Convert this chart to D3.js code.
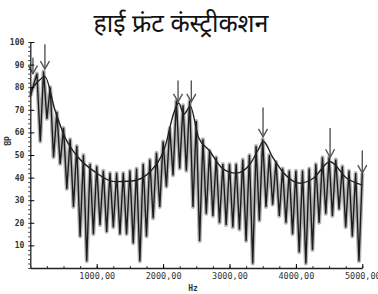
<!DOCTYPE html>
<html>
<head>
<meta charset="utf-8">
<script src="https://cdn.jsdelivr.net/npm/d3@7"></script>
<style>
  body { margin: 0; background: #fff; }
  .tick text { font-family: "DejaVu Sans Mono", monospace; fill: #333; }
</style>
</head>
<body>
<div id="chart"></div>
<script>
// harmonics of the spectrum (Hz) and their levels (dB)
var harmonicHz = [100,200,300,400,500,600,700,800,900,1000,
                  1100,1200,1300,1400,1500,1600,1700,1800,1900,2000,
                  2100,2200,2300,2400,2500,2600,2700,2800,2900,3000,
                  3100,3200,3300,3400,3500,3600,3700,3800,3900,4000,
                  4100,4200,4300,4400,4500,4600,4700,4800,4900,5000];
var peakDb = [86,87,80,69,62,57,54,50,46,45,
              43,42,42,42,43,44,46,48,51,56,
              62,74,72,74,65,57,52,49,46,46,
              46,48,50,54,57,50,47,44,43,43,
              43,44,46,49,49,48,45,43,42,42];
// troughs between harmonics (Hz, dB)
var dipHz = [150,250,350,450,550,650,750,850,950,1050,
             1150,1250,1350,1450,1550,1650,1750,1850,1950,2050,
             2150,2250,2350,2450,2550,2650,2750,2850,2950,3050,
             3150,3250,3350,3450,3550,3650,3750,3850,3950,4050,
             4150,4250,4350,4450,4550,4650,4750,4850,4950];
var dipDb = [56,66,49,46,35,27,14,3,15,19,
             16,18,15,15,11,3,14,22,27,36,
             41,44,43,27,12,24,23,20,19,18,
             17,12,2,21,27,28,23,20,15,7,
             2,8,20,24,23,26,18,14,3];
var startDb = 76;

// smooth envelope
var envHz = [0,100,220,370,520,720,970,1270,1530,1830,2030,2160,2235,2310,2410,2530,2695,2896,3098,3300,3427,3510,3650,3800,4060,4262,4514,4766,5000];
var envDb = [78.5,82,84.7,70,58,49,42.6,38.2,38.5,43.4,53.7,68.5,73,68,71.5,58,52,44,42,45.6,52,56,49,42.6,37.5,39.7,47,39.7,36.7];

// formant arrows
var arrowHz = [40,220,2225,2425,3505,4515,5000];
var arrowTopDb = [93,99,83,83,71,62,52];
var arrowTipDb = [86,88,73.5,73.5,58,49,42];

var xTicks = [1000,2000,3000,4000,5000];
var xTickLabels = ["1000,00","2000,00","3000,00","4000,00","5000,00"];
var yTicks = [10,20,30,40,50,60,70,80,90,100];

var width = 378, height = 294;
var svg = d3.select("#chart").append("svg")
    .attr("width", width)
    .attr("height", height);

var x = d3.scaleLinear().domain([0,5000]).range([30.3,362.3]);
var y = d3.scaleLinear().domain([0,100]).range([268,42]);

// build the zigzag spectrum
var spec = [[0,startDb]];
for (var i = 0; i < harmonicHz.length; i++) {
    spec.push([harmonicHz[i], peakDb[i]]);
    if (i < dipHz.length) spec.push([dipHz[i], dipDb[i]]);
}
var line = d3.line().x(d => x(d[0])).y(d => y(d[1]));

svg.append("path").datum(spec)
    .attr("d", line)
    .attr("fill","none")
    .attr("stroke","#b4b4b4")
    .attr("stroke-width",4)
    .attr("stroke-linejoin","round");
svg.append("path").datum(spec)
    .attr("d", line)
    .attr("fill","none")
    .attr("stroke","#1c1c1c")
    .attr("stroke-width",1.4);

var env = envHz.map((h,i) => [h, envDb[i]]);
svg.append("path").datum(env)
    .attr("d", d3.line().curve(d3.curveMonotoneX).x(d => x(d[0])).y(d => y(d[1])))
    .attr("fill","none")
    .attr("stroke","#222")
    .attr("stroke-width",1.4);

// arrows
var arrows = svg.append("g").attr("stroke","#555").attr("stroke-width",1.4).attr("fill","none");
arrowHz.forEach(function(h,i){
    var ax = x(h), top = y(arrowTopDb[i]), tip = y(arrowTipDb[i]);
    arrows.append("line").attr("x1",ax).attr("x2",ax).attr("y1",top).attr("y2",tip);
    arrows.append("path").attr("d","M"+(ax-4.5)+","+(tip-8)+"L"+ax+","+tip+"L"+(ax+4.5)+","+(tip-8));
});

// y axis
svg.append("g")
    .attr("transform","translate("+x(0)+",0)")
    .call(d3.axisLeft(y).tickValues(d3.range(0,101,2)).tickSize(2).tickFormat(""))
    .call(g => g.select(".domain").remove())
    .selectAll("line").attr("stroke","#333");
var yAx = svg.append("g")
    .attr("transform","translate("+x(0)+",0)")
    .call(d3.axisLeft(y).tickValues(yTicks).tickSizeInner(-4).tickSizeOuter(0).tickPadding(6));
yAx.select(".domain").attr("stroke","#222").attr("stroke-width",1.3);
yAx.selectAll("text").style("font-size","8px").style("font-weight","bold");

// x axis
svg.append("g")
    .attr("transform","translate(0,"+y(0)+")")
    .call(d3.axisBottom(x).tickValues(d3.range(0,5001,250)).tickSize(-2).tickFormat(""))
    .call(g => g.select(".domain").remove())
    .selectAll("line").attr("stroke","#333");
var xAx = svg.append("g")
    .attr("transform","translate(0,"+y(0)+")")
    .call(d3.axisBottom(x).tickValues(xTicks).tickSizeInner(-4).tickSizeOuter(0).tickPadding(5)
        .tickFormat((d,i) => xTickLabels[i]));
xAx.select(".domain").attr("stroke","#222").attr("stroke-width",1.3);
xAx.selectAll("text").style("font-size","8.5px");

svg.append("text")
    .attr("x",193).attr("y",291)
    .attr("text-anchor","middle")
    .style("font-family","DejaVu Sans Mono, monospace")
    .style("font-size","8px").style("font-weight","bold").attr("fill","#333")
    .text("Hz");

svg.append("text")
    .attr("transform","translate(4,141) rotate(90)")
    .attr("text-anchor","middle")
    .style("font-family","DejaVu Sans Mono, monospace")
    .style("font-size","8px").style("font-weight","bold").attr("fill","#333")
    .text("dB");

svg.append("text")
    .attr("x",181).attr("y",32)
    .attr("text-anchor","middle")
    .style("font-family","'Noto Sans Devanagari', 'Noto Sans', 'Lohit Devanagari', sans-serif")
    .style("font-size","25px")
    .attr("fill","#111")
    .text("हाई फ्रंट कंस्ट्रीकशन");
</script>
</body>
</html>
